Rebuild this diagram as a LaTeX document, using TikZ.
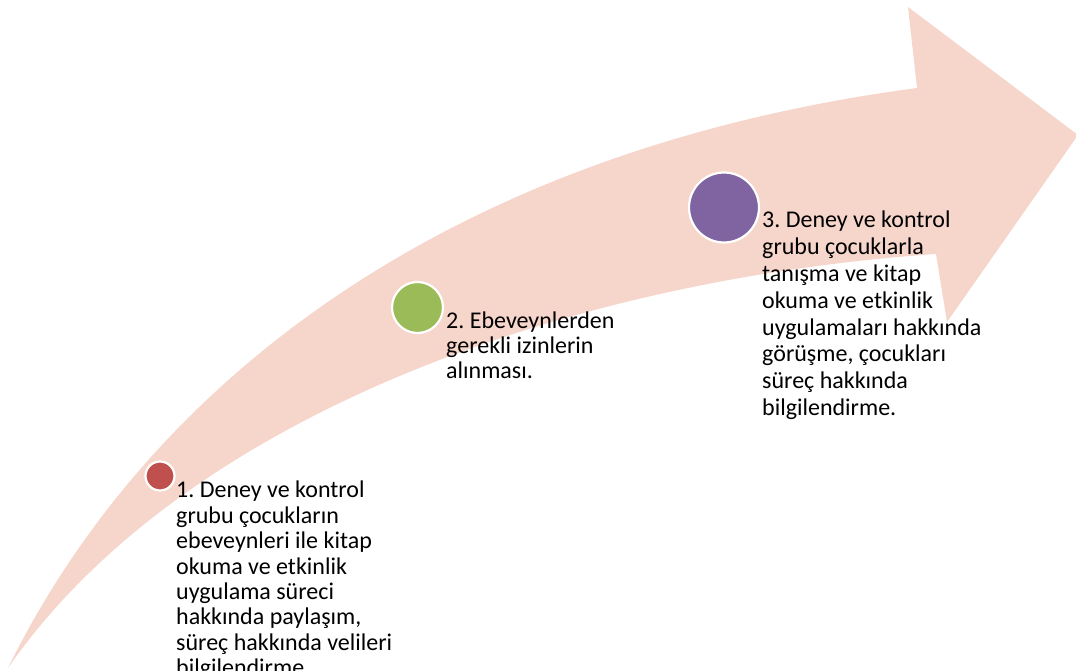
\documentclass[tikz,border=0pt]{standalone}
\usepackage{fontspec}
\setmainfont{Carlito}
\frenchspacing
\definecolor{bandfill}{HTML}{F6D5CB}
\definecolor{stepred}{HTML}{C0504D}
\definecolor{stepgreen}{HTML}{9BBB59}
\definecolor{steppurple}{HTML}{8064A2}
\tikzset{
  dot/.style={circle, draw=white, line width=2.2pt, inner sep=0pt},
  steptext/.style={anchor=north west, align=left, inner sep=0pt, text=black},
  lines/.style={font=\fontsize{24}{#1}\selectfont}
}
\begin{document}
\begin{tikzpicture}[x=1pt, y=-1pt]
  \useasboundingbox (0,0) rectangle (1076,671);
  \clip (0,0) rectangle (1076,671);
  % curved rising arrow
  \fill[bandfill]
    (8,668) .. controls (150,380) and (450,150) .. (917,88)
    -- (908,7) -- (1078,135) -- (947,322) -- (936,254)
    .. controls (560,280) and (180,420) .. (8,668) -- cycle;
  % step markers
  \node[dot, fill=stepred, minimum size=29pt] (d1) at (160,476) {};
  \node[dot, fill=stepgreen, minimum size=51pt] (d2) at (417.5,307.5) {};
  \node[dot, fill=steppurple, minimum size=70pt] (d3) at (724,207.5) {};
  % step descriptions
  \node[steptext, lines=25.4] (t1) at (176,481) {1. Deney ve kontrol\\grubu çocukların\\ebeveynleri ile kitap\\okuma ve etkinlik\\uygulama süreci\\hakkında paylaşım,\\süreç hakkında velileri\\bilgilendirme.};
  \node[steptext, lines=25] (t2) at (446,312) {2. Ebeveynlerden\\gerekli izinlerin\\alınması.};
  \node[steptext, lines=26.8] (t3) at (762,211) {3. Deney ve kontrol\\grubu çocuklarla\\tanışma ve kitap\\okuma ve etkinlik\\uygulamaları hakkında\\görüşme, çocukları\\süreç hakkında\\bilgilendirme.};
\end{tikzpicture}
\end{document}
